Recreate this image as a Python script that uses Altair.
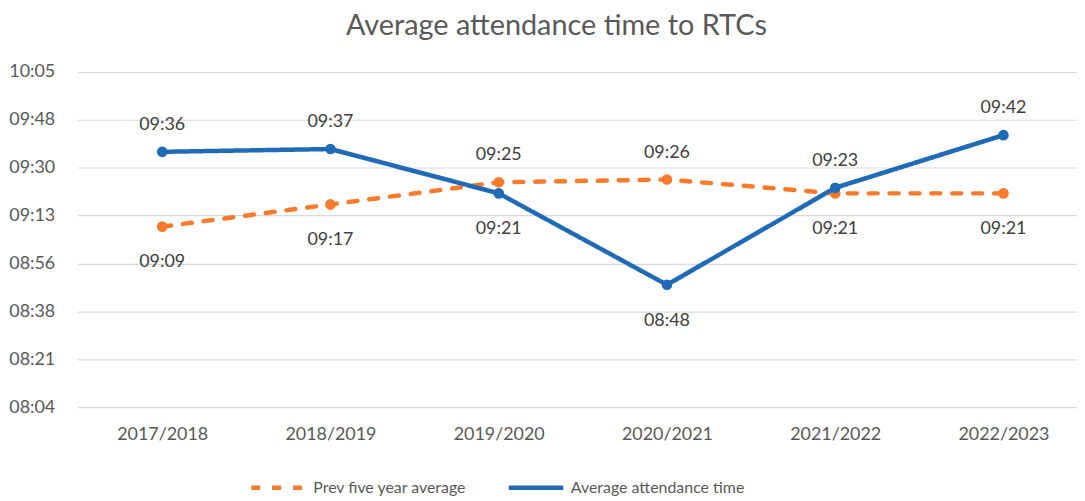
import altair as alt
import pandas as pd

years = ["2017/2018", "2018/2019", "2019/2020", "2020/2021", "2021/2022", "2022/2023"]
avg_times = ["09:36", "09:37", "09:21", "08:48", "09:23", "09:42"]
prev_times = ["09:09", "09:17", "09:25", "09:26", "09:21", "09:21"]
series_names = ["Prev five year average", "Average attendance time"]
y_ticks_days = [0.336, 0.348, 0.360, 0.372, 0.384, 0.396, 0.408, 0.420]

ORANGE = "#FA7A2C"
BLUE = "#1F6BB8"
TXT = "#595959"
FS = 18


def to_min(s):
    h, m = s.split(":")
    return int(h) * 60 + int(m)


rows = []
for i, yr in enumerate(years):
    a, p = to_min(avg_times[i]), to_min(prev_times[i])
    rows.append(dict(year=yr, series=series_names[0], minutes=p, label=prev_times[i], above=p > a))
    rows.append(dict(year=yr, series=series_names[1], minutes=a, label=avg_times[i], above=a >= p))
df = pd.DataFrame(rows)

tick_vals = [round(d * 1440, 4) for d in y_ticks_days]

label_expr = (
    "(floor(round(datum.value)/60) < 10 ? '0' : '') + floor(round(datum.value)/60) + ':' + "
    "(round(datum.value)%60 < 10 ? '0' : '') + (round(datum.value)%60)"
)

x_enc = alt.X(
    "year:N", sort=years,
    scale=alt.Scale(type="point", padding=0.47, align=0.535),
    axis=alt.Axis(title=None, labelFontSize=FS, labelColor=TXT, labelPadding=19,
                  domain=False, ticks=False, grid=False, labelAngle=0),
)
y_enc = alt.Y(
    "minutes:Q",
    scale=alt.Scale(domain=[tick_vals[0], tick_vals[-1]], nice=False, zero=False),
    axis=alt.Axis(title=None, values=tick_vals, labelExpr=label_expr, labelFontSize=FS,
                  labelColor=TXT, labelPadding=23, domain=False, ticks=False,
                  grid=True, gridColor="#D9D9D9", gridWidth=1.2),
)

legend = alt.Legend(
    title=None, orient="none", direction="horizontal", legendX=172, legendY=388,
    symbolType="stroke", symbolSize=3000, symbolStrokeWidth=4.5,
    labelFontSize=16, labelColor=TXT, columnPadding=32, labelOffset=5, labelLimit=500,
)
color_enc = alt.Color("series:N", scale=alt.Scale(domain=series_names, range=[ORANGE, BLUE]), legend=legend)
dash_enc = alt.StrokeDash("series:N", scale=alt.Scale(domain=series_names, range=[[9, 12], [1, 0]]), legend=legend)

base = alt.Chart(df)
layers = []
for s in series_names:
    sb = base.transform_filter(alt.datum.series == s)
    layers.append(sb.mark_line(strokeWidth=4.5, strokeCap="round").encode(
        x=x_enc, y=y_enc, color=color_enc, strokeDash=dash_enc))
    layers.append(sb.mark_circle(size=115, opacity=1).encode(
        x=x_enc, y=y_enc, color=alt.Color("series:N", scale=alt.Scale(domain=series_names, range=[ORANGE, BLUE]), legend=None)))

above = base.transform_filter("datum.above").mark_text(dy=-27, fontSize=FS, color="#404040").encode(
    x=x_enc, y=y_enc, text="label:N")
below = base.transform_filter("!datum.above").mark_text(dy=36, fontSize=FS, color="#404040").encode(
    x=x_enc, y=y_enc, text="label:N")
layers += [above, below]

chart = alt.layer(*layers).properties(
    width=1005, height=337,
    padding={"left": 0, "top": 3, "right": 0, "bottom": 0},
    title=alt.Title("Average attendance time to RTCs", fontSize=29, color=TXT,
                    fontWeight="normal", offset=22, dx=-21, anchor="middle"),
).configure(font="Lato").configure_view(stroke=None)

chart.save("out.html", embed_options={"renderer": "svg", "actions": False})
